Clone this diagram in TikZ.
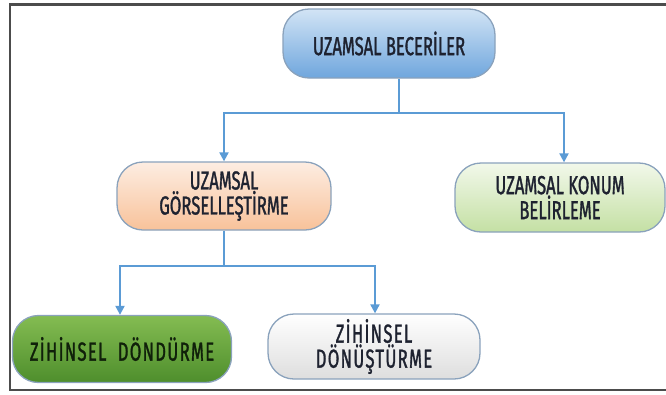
\documentclass[tikz,border=0pt]{standalone}
\usepackage{fontspec}
\setmainfont[FakeStretch=0.64,FakeBold=1.2]{Fira Sans}
\usetikzlibrary{arrows.meta}
\definecolor{linkblue}{HTML}{5B9BD5}
\definecolor{edgegray}{HTML}{8AA2BC}
\definecolor{inkdark}{HTML}{1E2230}
\definecolor{blueA}{HTML}{D2E4F5}
\definecolor{blueB}{HTML}{6FA6DD}
\definecolor{peachA}{HTML}{FDEDE2}
\definecolor{peachB}{HTML}{F8C29A}
\definecolor{mintA}{HTML}{F2F8EA}
\definecolor{mintB}{HTML}{C4E0A4}
\definecolor{leafA}{HTML}{84BC52}
\definecolor{leafB}{HTML}{4E8E2C}
\definecolor{leafInk}{HTML}{10200A}
\tikzset{
  pill/.style={draw=edgegray, line width=1.3pt, rounded corners=26pt,
    shading=axis, shading angle=0, align=center, text=inkdark,
    font=\fontsize{26}{25}\selectfont, inner sep=0pt},
  spaced/.style={font=\fontsize{26}{25}\selectfont\addfontfeature{LetterSpace=5}},
  conn/.style={draw=linkblue, line width=2pt,
    -{Triangle[length=9pt,width=9pt]}},
  trunk/.style={draw=linkblue, line width=2pt}
}
\begin{document}
\begin{tikzpicture}[x=1pt,y=-1pt]
\useasboundingbox (0,0) rectangle (666,394);
% outer frame
\draw[draw=black!70, line width=2.2pt] (10,4.5) rectangle (680,390);

% boxes
\node[pill, top color=blueA, bottom color=blueB,
      minimum width=212pt, minimum height=69pt] (root) at (389,43.5)
      {UZAMSAL BECERİLER};
\node[pill, top color=peachA, bottom color=peachB,
      minimum width=214pt, minimum height=68pt] (vis) at (224,196)
      {UZAMSAL\\GÖRSELLEŞTİRME};
\node[pill, top color=mintA, bottom color=mintB,
      minimum width=210pt, minimum height=69pt] (loc) at (560,197.5)
      {UZAMSAL KONUM\\BELİRLEME};
\node[pill, spaced, top color=leafA, bottom color=leafB, text=leafInk,
      minimum width=219pt, minimum height=67pt] (rot) at (122,349)
      {ZİHİNSEL~ DÖNDÜRME};
\node[pill, spaced, top color=white, bottom color=black!13,
      minimum width=212pt, minimum height=65pt] (trans) at (374,346.5)
      {ZİHİNSEL\\DÖNÜŞTÜRME};

% first level branches
\coordinate (split1) at ([xshift=10pt,yshift=-34pt]root.south);
\draw[trunk] ([xshift=10pt]root.south) -- (split1);
\draw[conn] (split1) -| (vis.north);
\draw[conn] (split1) -| ([xshift=4pt]loc.north);

% second level branches
\coordinate (split2) at ([yshift=-35pt]vis.south);
\draw[trunk] (vis.south) -- (split2);
\draw[conn] (split2) -| ([xshift=-2pt]rot.north);
\draw[conn] (split2) -| ([xshift=1pt]trans.north);
\end{tikzpicture}
\end{document}
